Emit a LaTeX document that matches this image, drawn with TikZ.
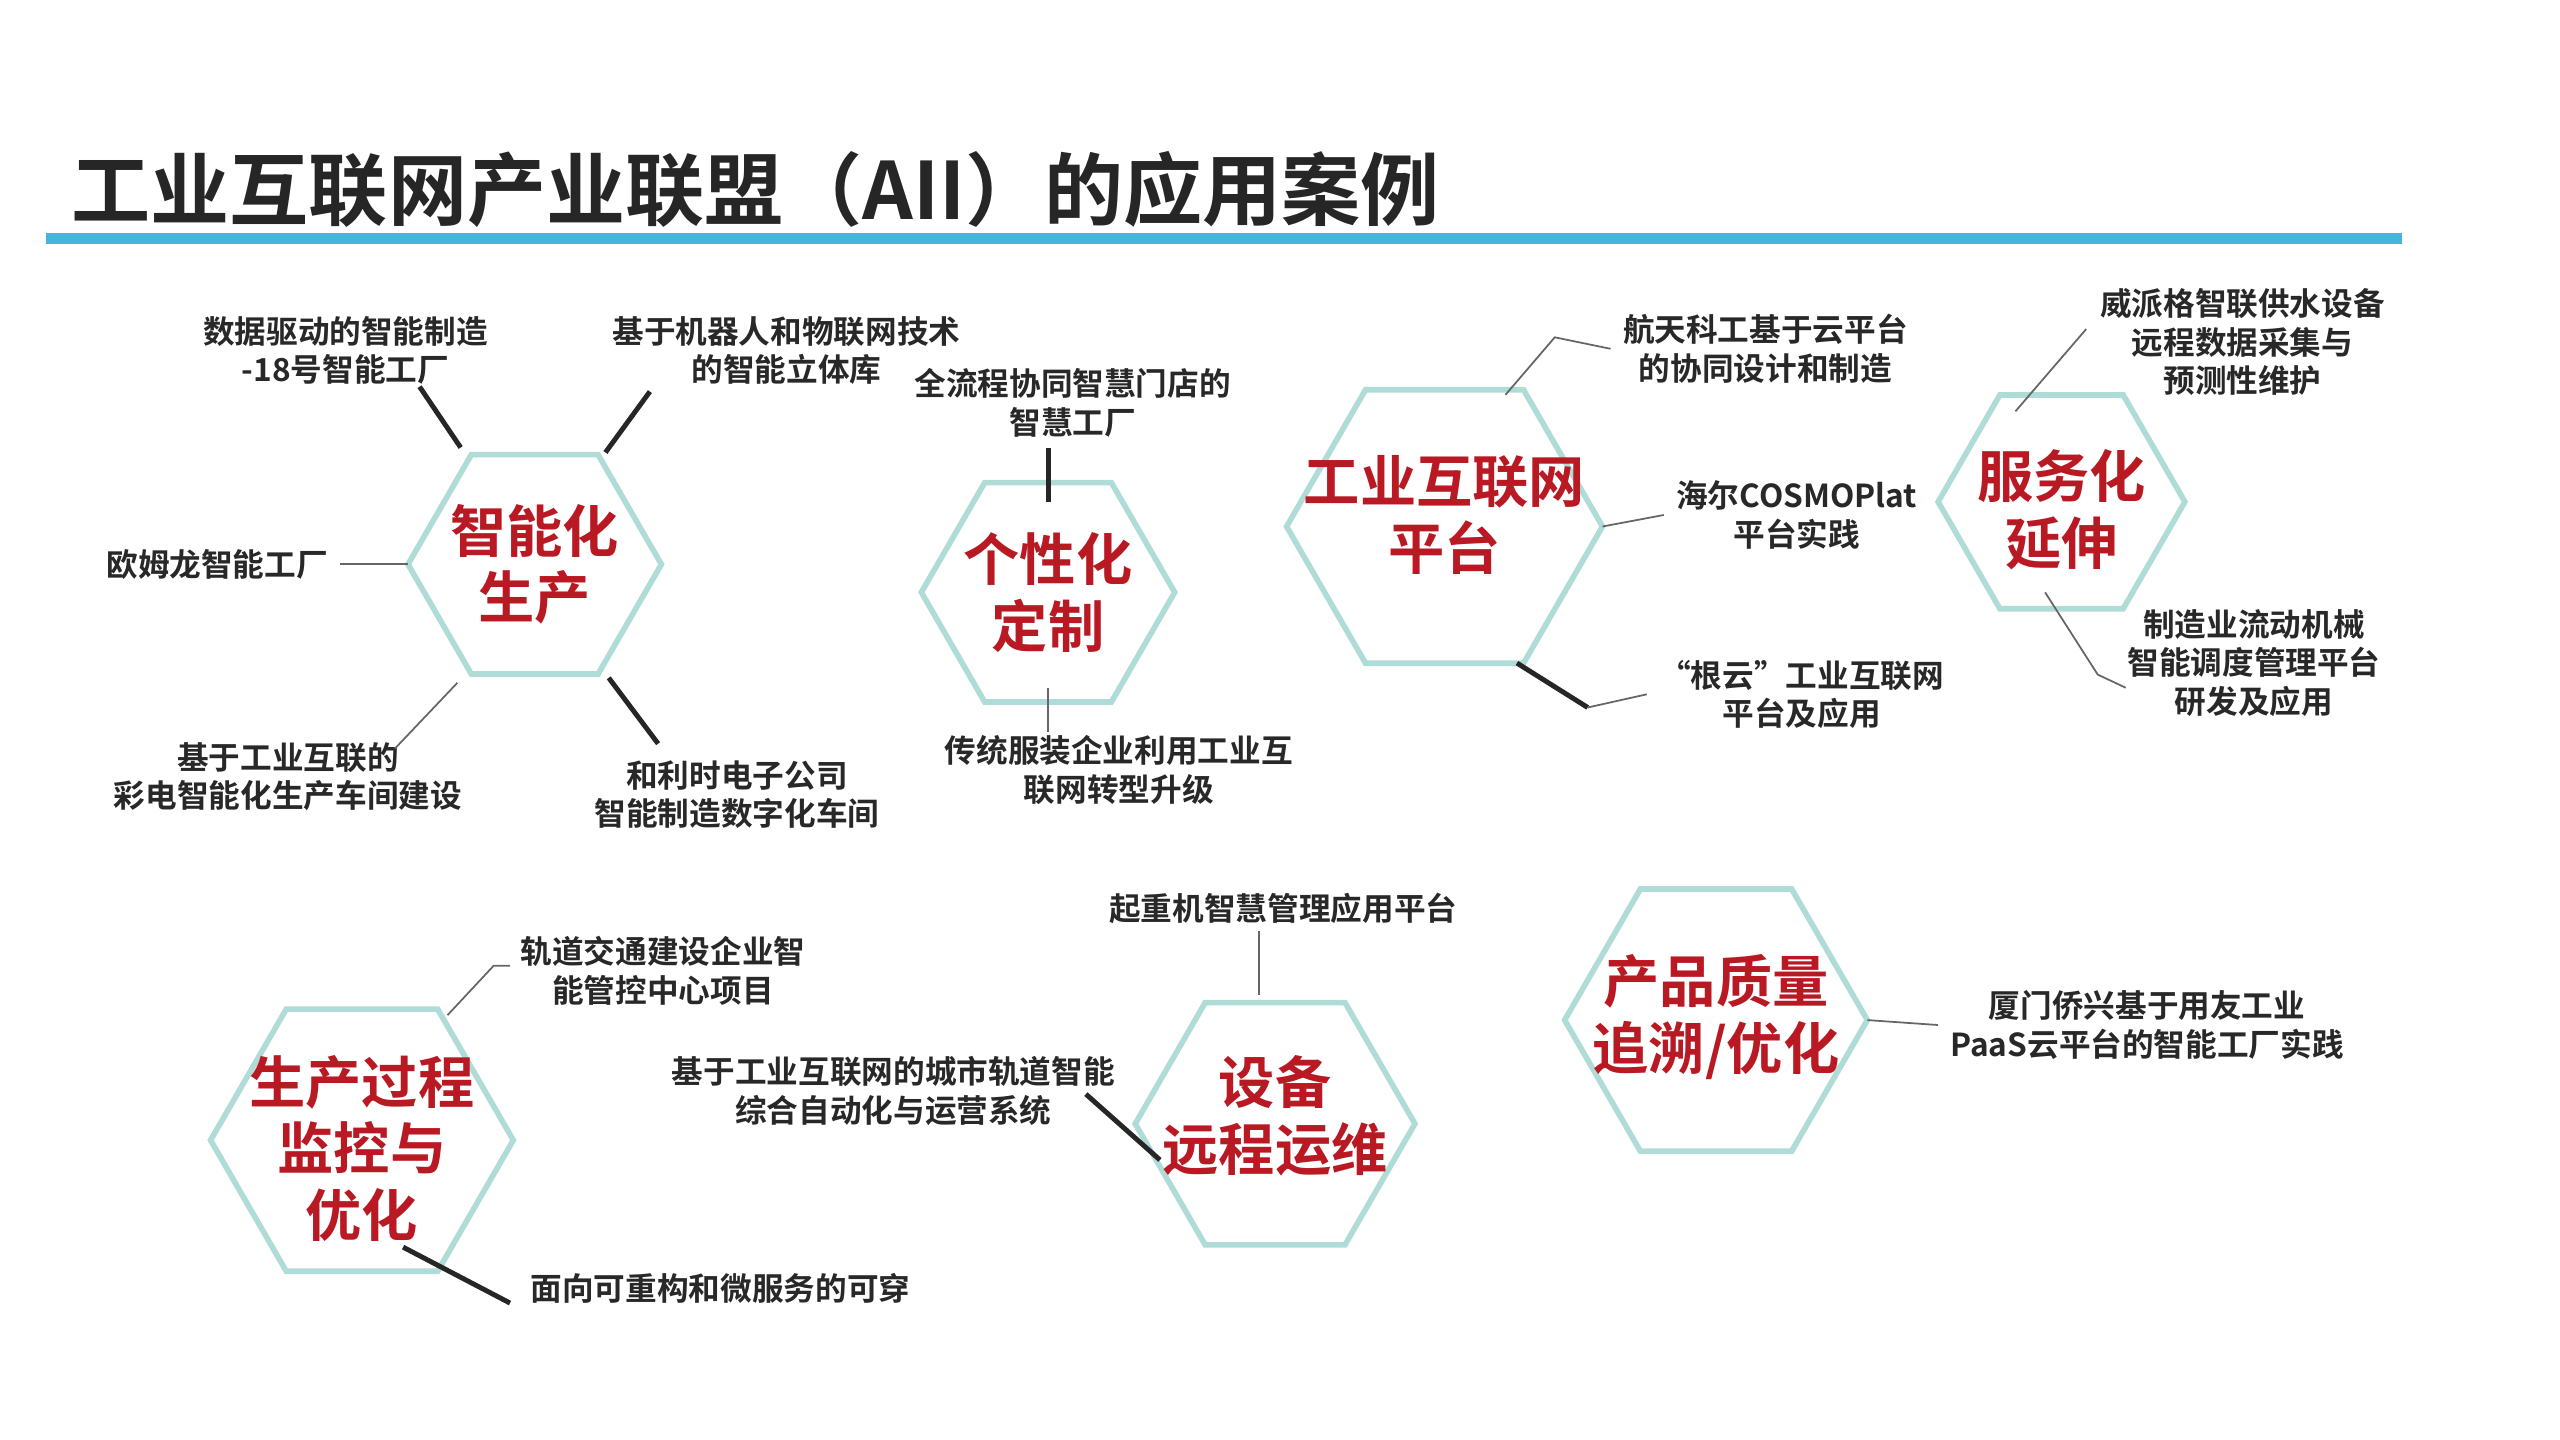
\documentclass[tikz,border=0pt]{standalone}
\usepackage{fontspec}
\setmainfont{Noto Sans CJK SC}
\newfontfamily\cjkb{Noto Sans CJK SC Bold}
\definecolor{hexc}{RGB}{175,220,215}
\definecolor{redt}{RGB}{185,25,35}
\definecolor{bluel}{RGB}{70,180,220}
\definecolor{txt}{RGB}{40,40,40}
\newcommand{\hexdraw}[3]{%
  \draw[hexc,line width=1.6pt] ($(#1)+(0:#2)$) -- ($(#1)+(60:#2)$) -- ($(#1)+(120:#2)$) -- ($(#1)+(180:#2)$) -- ($(#1)+(240:#2)$) -- ($(#1)+(300:#2)$) -- cycle;
  \node[hext] (#3) at (#1) {};}
\usetikzlibrary{calc}
\begin{document}
\begin{tikzpicture}[x=0.016452cm,y=-0.016452cm,
  hext/.style={align=center,font=\cjkb\fontsize{16}{19}\selectfont,text=redt,inner sep=0pt},
  lab/.style={align=center,font=\cjkb\fontsize{9}{11}\selectfont,text=txt},
  thk/.style={draw=black!85,line width=1.4pt},
  thn/.style={draw=black!60,line width=0.5pt}]
\useasboundingbox (0,0) rectangle (1556,875);
\node[anchor=west,font=\cjkb\fontsize{22.5}{26}\selectfont,text=black!85] (title) at (36,115) {工业互联网产业联盟（AII）的应用案例};
\draw[bluel,line width=3pt] (28,145) -- (1460,145);

\hexdraw{325,343}{77}{h1}
\hexdraw{637,360}{77}{h2}
\hexdraw{878,320}{96}{h3}
\hexdraw{1253,305}{75}{h4}
\hexdraw{220,693}{92}{h5}
\hexdraw{775,683}{85}{h6}
\hexdraw{1043,620}{92}{h7}
\node[hext] (t1) at (325,343) {智能化\\生产};
\node[hext] (t2) at (637,360) {个性化\\定制};
\node[hext] (t3) at (878,313) {工业互联网\\平台};
\node[hext] (t4) at (1253,310) {服务化\\延伸};
\node[hext] (t5) at (220,698) {生产过程\\监控与\\优化};
\node[hext] (t6) at (775,678) {设备\\远程运维};
\node[hext] (t7) at (1043,618) {产品质量\\追溯/优化};

\node[lab] (a1) at (210,213) {数据驱动的智能制造\\-18号智能工厂};
\node[lab] (a2) at (478,213) {基于机器人和物联网技术\\的智能立体库};
\node[lab] (a3) at (132,343) {欧姆龙智能工厂};
\node[lab] (a4) at (175,472) {基于工业互联的\\彩电智能化生产车间建设};
\node[lab] (a5) at (448,483) {和利时电子公司\\智能制造数字化车间};
\node[lab] (b1) at (652,245) {全流程协同智慧门店的\\智慧工厂};
\node[lab] (b2) at (680,468) {传统服装企业利用工业互\\联网转型升级};
\node[lab] (c1) at (1073,212) {航天科工基于云平台\\的协同设计和制造};
\node[lab] (c2) at (1092,313) {海尔COSMOPlat\\平台实践};
\node[lab] (c3) at (1095,422) {“根云”工业互联网\\平台及应用};
\node[lab] (d1) at (1363,208) {威派格智联供水设备\\远程数据采集与\\预测性维护};
\node[lab] (d2) at (1370,403) {制造业流动机械\\智能调度管理平台\\研发及应用};
\node[lab] (e1) at (403,590) {轨道交通建设企业智\\能管控中心项目};
\node[lab,anchor=west] (e2) at (315,783) {面向可重构和微服务的可穿};
\node[lab] (f1) at (780,552) {起重机智慧管理应用平台};
\node[lab] (f2) at (543,663) {基于工业互联网的城市轨道智能\\综合自动化与运营系统};
\node[lab] (g1) at (1305,623) {厦门侨兴基于用友工业\\PaaS云平台的智能工厂实践};

\draw[thk] (280,272) -- (255,235);
\draw[thk] (368,275) -- (395,238);
\draw[thn] (a3.east) -- (248,343);
\draw[thn] (278,415) -- (240,455);
\draw[thk] (370,412) -- (400,452);
\draw[thk] (637,272) -- (637,305);
\draw[thn] (637,418) -- (637,445);
\draw[thn] (915,240) -- (945,205) -- (c1.west);
\draw[thn] (974,320) -- (c2.west);
\draw[thk] (922,403) -- (965,430);
\draw[thn] (965,430) -- (c3.west);
\draw[thn] (1225,250) -- (1268,200);
\draw[thn] (1243,360) -- (1275,410) -- (1292,418);
\draw[thn] (272,617) -- (300,587) -- (310,587);
\draw[thk] (245,758) -- (310,792);
\draw[thn] (765,566) -- (765,605);
\draw[thk] (660,665) -- (705,705);
\draw[thn] (1135,620) -- (g1.west);
\end{tikzpicture}
\end{document}
